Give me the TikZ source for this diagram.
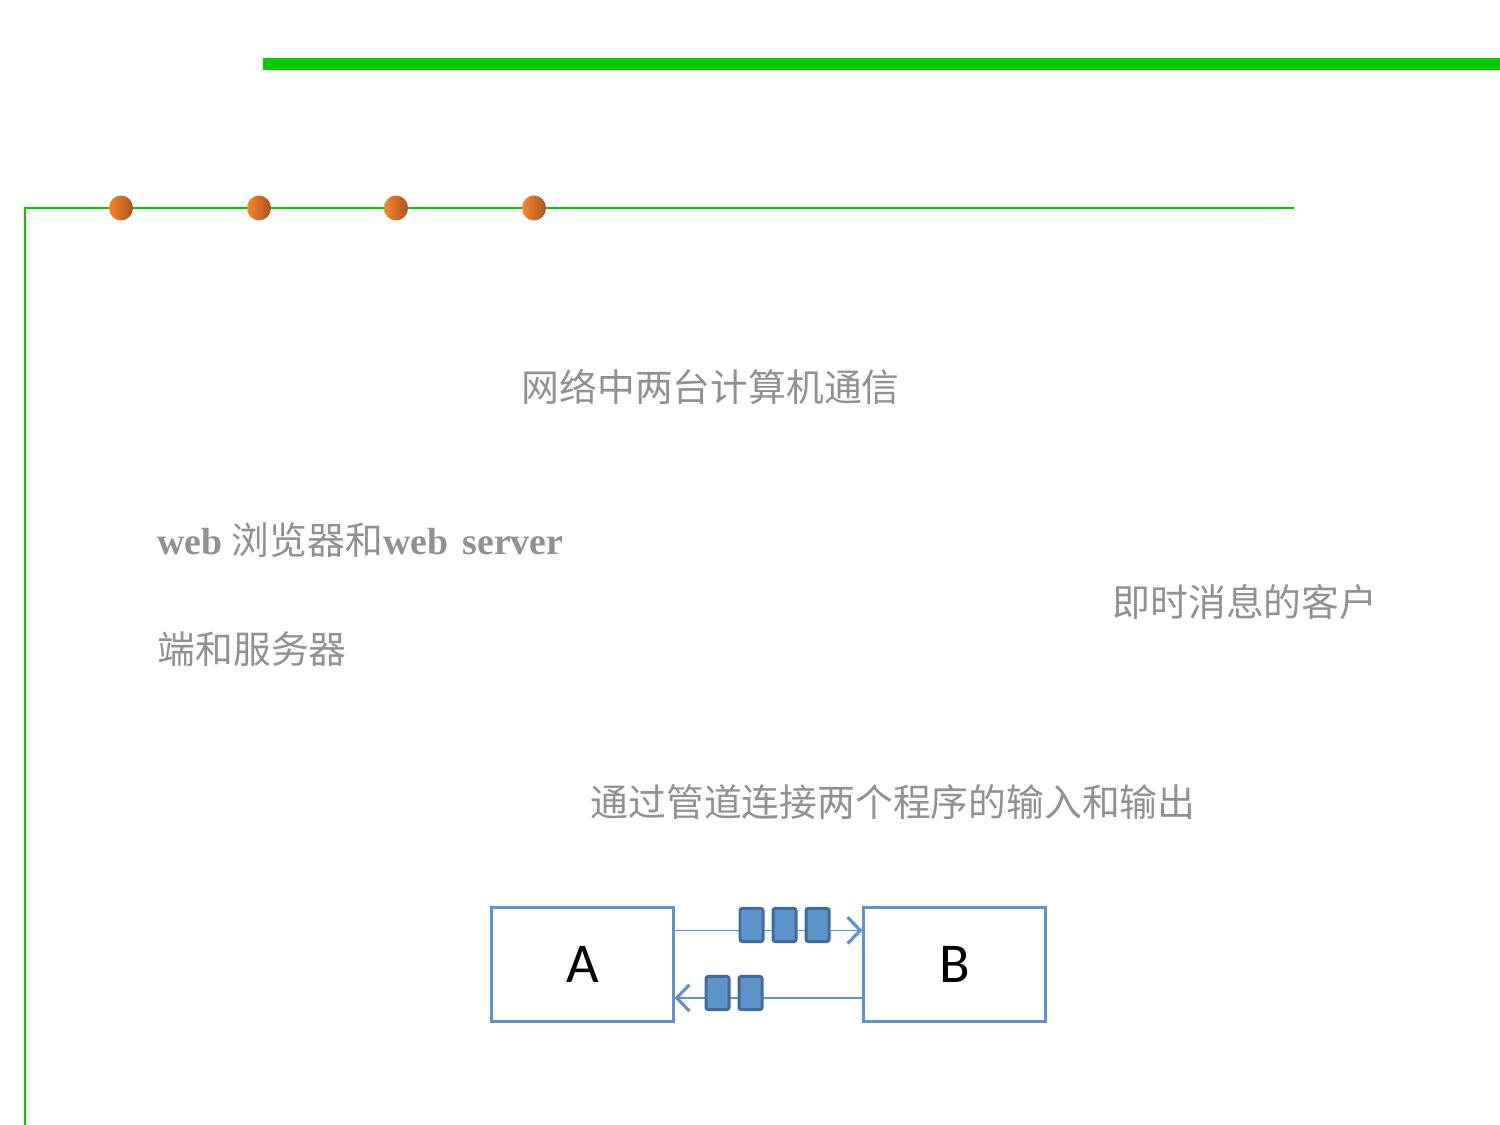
\documentclass[tikz,border=0pt]{standalone}
\usepackage{fontspec}
\setmainfont{Noto Sans CJK SC}
\newfontfamily\serifl{Liberation Serif}
\newfontfamily\labelfont{Carlito}
\usepackage{xcolor}
\usetikzlibrary{positioning,calc,arrows.meta}
\definecolor{barGreen}{RGB}{0,204,0}
\definecolor{noteGray}{RGB}{145,145,145}
\definecolor{boxBlue}{RGB}{99,146,200}
\definecolor{pktFill}{RGB}{93,148,201}
\definecolor{pktDraw}{RGB}{66,106,154}
\definecolor{dotLight}{RGB}{250,135,45}
\definecolor{dotDark}{RGB}{168,84,26}

\begin{document}
\begin{tikzpicture}[
		x=0.01cm,y=-0.01cm,
		note/.style={text=noteGray, inner sep=0pt, anchor=base west,
			font=\fontsize{10.75pt}{12pt}\selectfont},
		prog/.style={draw=boxBlue, line width=0.85pt, fill=white,
			minimum width=1.81cm, minimum height=1.13cm, inner sep=0pt,
			font=\labelfont\fontsize{16pt}{18pt}\selectfont},
		pkt/.style={draw=pktDraw, fill=pktFill, line width=0.85pt, rounded corners=0.6pt,
			minimum width=0.23cm, minimum height=0.33cm, inner sep=0pt},
		flow/.style={draw=boxBlue, line width=0.45pt,
			-{Straight Barb[length=3.6pt,width=7.5pt,line width=0.9pt]}},
		>=latex
		]
		\useasboundingbox (0,0) rectangle (1500,1125);
		
		% ====== TOP BAR + FRAME ======
		\fill[barGreen] (263,58) rectangle (1500,70);
		\draw[barGreen, line width=0.02cm] (1294,208) -- (25,208) -- (25,1125);
		
		\foreach \dx in {121,259,396,534}
		\shade[left color=dotLight, right color=dotDark]
		(\dx,208) ellipse [x radius=12, y radius=12.5];
		
		% ====== TEXT ======
		\node[note] (net) at (521,402) {网络中两台计算机通信};
		\node[note] (web) at (157,555)
		{{\serifl\bfseries web}\hspace{0.09cm}浏览器和{\serifl\bfseries web\hspace{0.05cm} server}};
		\node[note] (cs) at (157,663) {端和服务器};
		\node[note] (im) at (1112,617) {即时消息的客户};
		\node[note] (pipe) at (590,817) {通过管道连接两个程序的输入和输出};
		
		% ====== PIPE A <-> B ======
		\node[prog] (A) at (582.5,964.5) {\raisebox{-1pt}{A}};
		\node[prog] (B) at (954.5,964.5) {\raisebox{-1pt}{B}};
		
		\draw[flow] ([yshift=9.7pt]A.east) -- ([yshift=9.7pt]B.west);
		\draw[flow] ([yshift=-9.5pt]B.west) -- ([yshift=-9.5pt]A.east);
		
		\node[pkt] (q1) at (751.5,925) {};
		\node[pkt, right=0.07cm of q1] (q2) {};
		\node[pkt, right=0.07cm of q2] (q3) {};
		
		\node[pkt] (r1) at (717.5,993) {};
		\node[pkt, right=0.07cm of r1] (r2) {};
		
\end{tikzpicture}
\end{document}
